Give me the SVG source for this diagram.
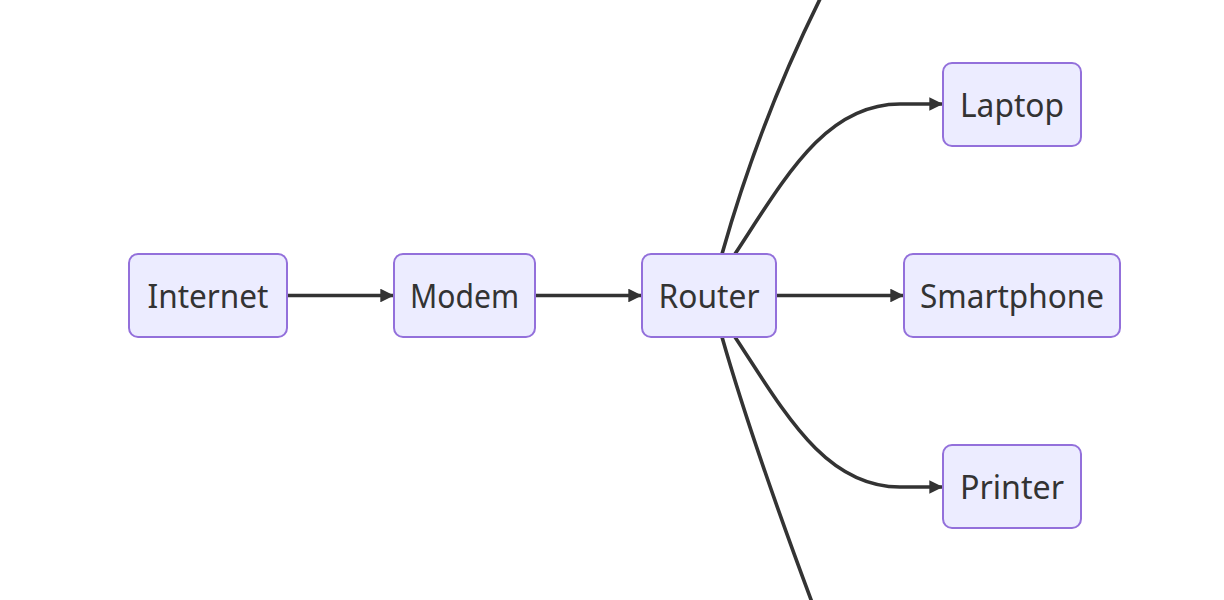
<svg xmlns="http://www.w3.org/2000/svg" width="1224" height="600" viewBox="0 0 1224 600">
<style>
.node rect{fill:#ECECFF;stroke:#9370DB;stroke-width:2}
.node text{font-family:"Noto Sans","DejaVu Sans",sans-serif;font-size:32px;fill:#333333;text-anchor:middle}
.edge{fill:none;stroke:#333333;stroke-width:3.6}
</style>
<defs>
<marker id="arrow" viewBox="0 0 10 10" refX="10" refY="5" markerWidth="3.8" markerHeight="3.8" markerUnits="strokeWidth" orient="auto">
<path d="M0,0 L10,5 L0,10 z" fill="#333333"/>
</marker>
</defs>
<rect width="1224" height="600" fill="#ffffff"/>
<g id="connectors">
<path class="edge" d="M287,295.5 L394,295.5" marker-end="url(#arrow)"/>
<path class="edge" d="M535,295.5 L642,295.5" marker-end="url(#arrow)"/>
<path class="edge" d="M776,295.5 L904,295.5" marker-end="url(#arrow)"/>
<path class="edge" d="M735,254 C785,178 825,104 900,104 L943,104" marker-end="url(#arrow)"/>
<path class="edge" d="M735,337 C785,413 825,487 900,487 L943,487" marker-end="url(#arrow)"/>
<path class="edge" d="M722,254 C740,190 772,95 822,-5"/>
<path class="edge" d="M722,337 C740,400 770,490 813,605"/>
</g>
<g id="node-internet" class="node"><rect x="129" y="254" width="158" height="83" rx="9"/><text x="208" y="308" textLength="121" lengthAdjust="spacingAndGlyphs">Internet</text></g>
<g id="node-modem" class="node"><rect x="394" y="254" width="141" height="83" rx="9"/><text x="464.5" y="308" textLength="109" lengthAdjust="spacingAndGlyphs">Modem</text></g>
<g id="node-router" class="node"><rect x="642" y="254" width="134" height="83" rx="9"/><text x="709" y="308" textLength="101" lengthAdjust="spacingAndGlyphs">Router</text></g>
<g id="node-smartphone" class="node"><rect x="904" y="254" width="216" height="83" rx="9"/><text x="1012" y="308" textLength="184" lengthAdjust="spacingAndGlyphs">Smartphone</text></g>
<g id="node-laptop" class="node"><rect x="943" y="63" width="138" height="83" rx="9"/><text x="1012" y="117" textLength="104" lengthAdjust="spacingAndGlyphs">Laptop</text></g>
<g id="node-printer" class="node"><rect x="943" y="445" width="138" height="83" rx="9"/><text x="1012" y="499" textLength="104" lengthAdjust="spacingAndGlyphs">Printer</text></g>
</svg>
